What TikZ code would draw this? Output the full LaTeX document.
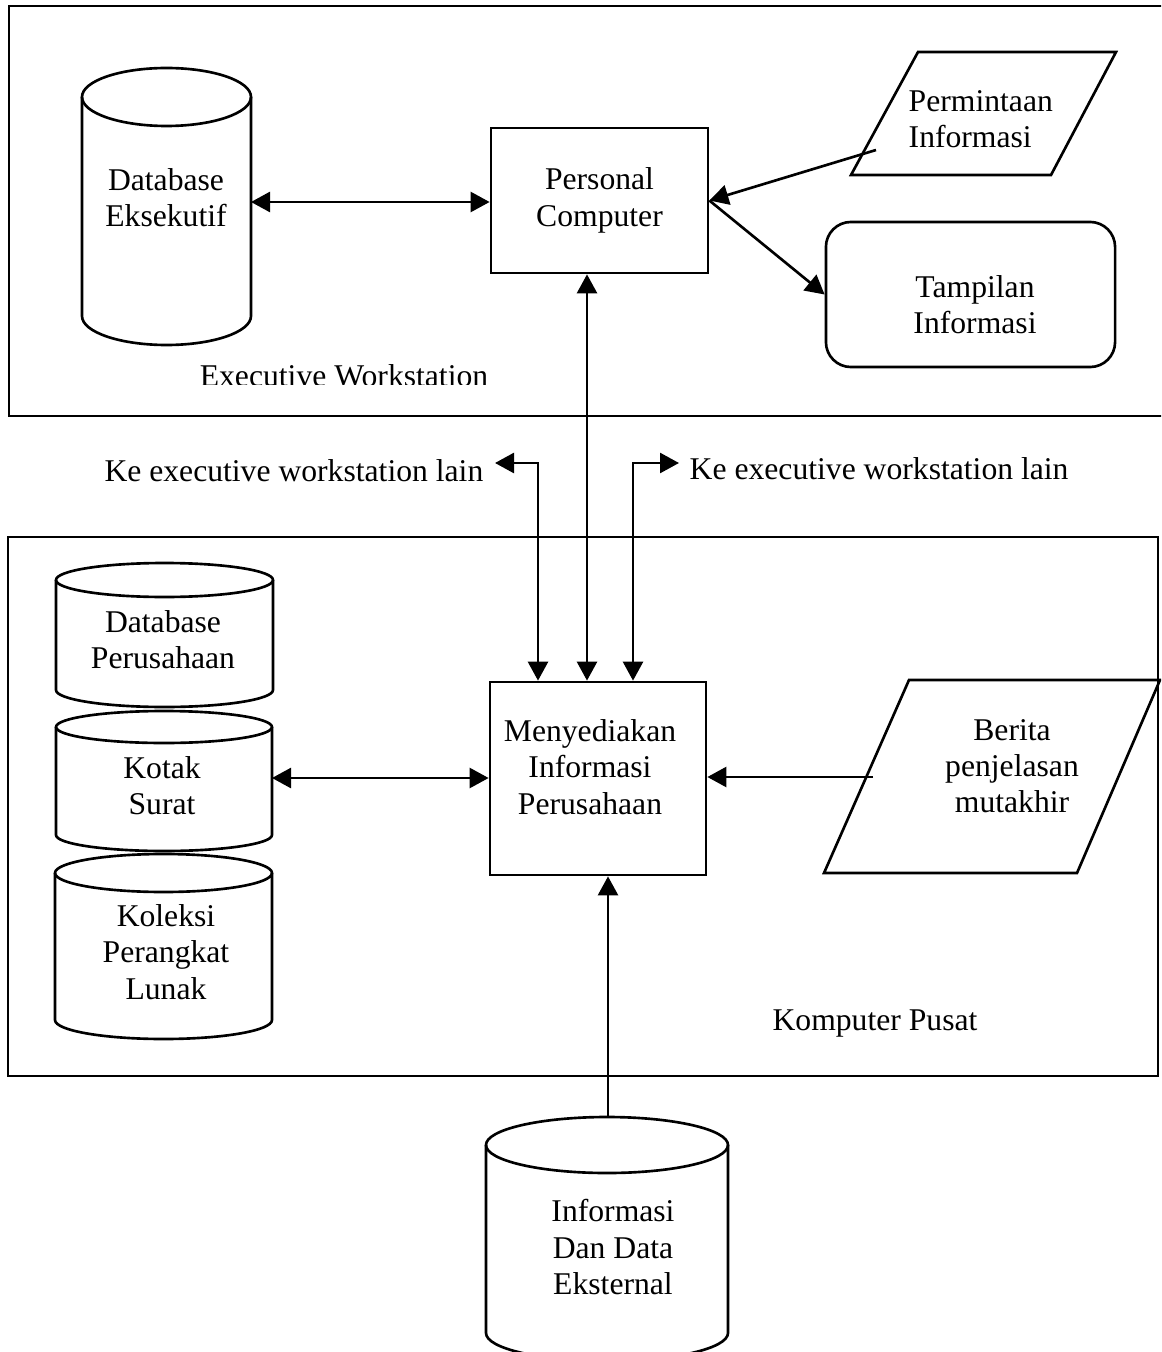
\documentclass[tikz,border=0pt]{standalone}
\usepackage{fontspec}
\setmainfont{Liberation Serif}
\usetikzlibrary{arrows.meta}

\tikzset{
	garis/.style={line width=0.75pt},
	kotak/.style={draw, line width=0.75pt, inner sep=0pt},
	teks/.style={align=center, inner sep=0pt},
	every node/.append style={font=\fontsize{9}{10.3}\selectfont}
}

% tabung: kiri, kanan, atas, bawah, jari-jari elips
\newcommand{\tabung}[5]{
	\draw [garis, fill=white] (#1,#3) -- (#1,#4)
		arc [start angle=180, end angle=0, x radius={(#2-#1)/2}, y radius=#5] -- (#2,#3);
	\draw [garis] ({(#1+#2)/2},#3) ellipse [x radius={(#2-#1)/2}, y radius=#5];
}

\begin{document}
\begin{tikzpicture}[x=0.01cm, y=-0.01cm, >={Triangle[length=0.19cm, width=0.2cm]}]
	\useasboundingbox (0,0) rectangle (1161,1352);
	\clip (0,0) rectangle (1161,1352);

	% executive workstation
	\draw [garis] (9,6) rectangle (1175,416);
	\tabung{82}{251}{97}{316}{29}
	\node [teks] (dbeks) at (166,198) {Database\\Eksekutif};
	\coordinate (dbeks-e) at (251,202);
	\node [kotak, minimum width=2.17cm, minimum height=1.45cm, align=center] (pc) at (599.5,200.5) {Personal\\Computer};
	\draw [garis] (918,52) -- (1116,52) -- (1051,175) -- (851,175) -- cycle;
	\node [teks, align=left, anchor=west] (minta) at (908,119) {Permintaan\\Informasi};
	\coordinate (minta-ujung) at (876,150);
	\node [kotak, rounded corners=0.25cm, minimum width=2.89cm, minimum height=1.45cm] (tampil) at (970.5,294.5) {};
	\node [teks] (tampil-teks) at (975,305) {Tampilan\\Informasi};
	\begin{scope}
		\clip (150,340) rectangle (560,384);
		\node [teks] (ews) at (344,376) {Executive Workstation};
	\end{scope}

	\draw [garis, <->] (dbeks-e) -- (pc.west |- dbeks-e);
	\draw [garis, ->] (minta-ujung) -- (pc.east);
	\draw [garis, ->] (pc.east) -- (tampil.west);

	% komputer pusat
	\draw [garis] (8,537) rectangle (1158,1076);
	\tabung{56}{273}{580}{690}{17}
	\node [teks] (dbper) at (163,640) {Database\\Perusahaan};
	\tabung{56}{272}{727}{835}{16}
	\node [teks] (surat) at (162,786) {Kotak\\Surat};
	\coordinate (surat-e) at (272,778);
	\tabung{55}{272}{873}{1020}{19}
	\node [teks] (koleksi) at (166,952) {Koleksi\\Perangkat\\Lunak};
	\node [kotak, minimum width=2.16cm, minimum height=1.93cm] (info) at (598,778.5) {};
	\node [teks] (info-teks) at (590,767) {Menyediakan\\Informasi\\Perusahaan};
	\draw [garis] (909,680) -- (1160,680) -- (1077,873) -- (824,873) -- cycle;
	\node [teks] (berita) at (1012,766) {Berita\\penjelasan\\mutakhir};
	\coordinate (berita-ujung) at (873,777);
	\node [teks] (pusat) at (875,1023) {Komputer Pusat};

	\draw [garis, <->] (surat-e) -- (info.west |- surat-e);
	\draw [garis, ->] (berita-ujung) -- (info.east |- berita-ujung);

	% ke workstation lain
	\coordinate (jalur) at (587,0);
	\coordinate (jalurkiri) at (538,0);
	\coordinate (jalurkanan) at (633,0);
	\coordinate (kelain1) at (495,463);
	\coordinate (kelain2) at (679,463);
	\node [teks, anchor=east] (lain1) at (484,471) {Ke executive workstation lain};
	\node [teks, anchor=west] (lain2) at (689,469) {Ke executive workstation lain};
	\draw [garis, <->] (pc.south -| jalur) -- (info.north -| jalur);
	\draw [garis, <->] (kelain1) -| (info.north -| jalurkiri);
	\draw [garis, <->] (kelain2) -| (info.north -| jalurkanan);

	% data eksternal
	\tabung{486}{728}{1145}{1333}{28}
	\node [teks] (eksternal) at (613,1247) {Informasi\\Dan Data\\Eksternal};
	\coordinate (eks-n) at (608,1117);
	\draw [garis, ->] (eks-n) -- (info.south -| eks-n);
\end{tikzpicture}
\end{document}
